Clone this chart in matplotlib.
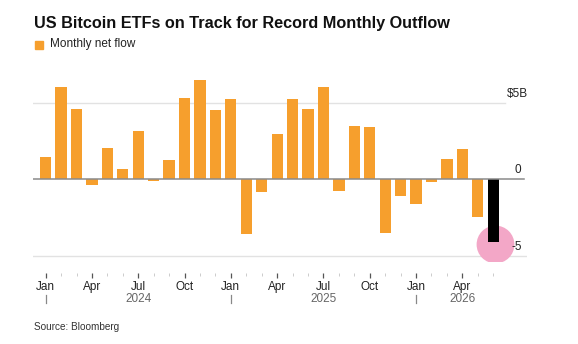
import matplotlib
matplotlib.use("Agg")
import matplotlib.pyplot as plt
import matplotlib.transforms as mtransforms
import numpy as np

plt.rcParams['font.family'] = ['Liberation Sans', 'DejaVu Sans']

# ---- data ----
months = ['2024-01', '2024-02', '2024-03', '2024-04', '2024-05', '2024-06',
          '2024-07', '2024-08', '2024-09', '2024-10', '2024-11', '2024-12',
          '2025-01', '2025-02', '2025-03', '2025-04', '2025-05', '2025-06',
          '2025-07', '2025-08', '2025-09', '2025-10', '2025-11', '2025-12',
          '2026-01', '2026-02', '2026-03', '2026-04', '2026-05', '2026-06']
net_flow = [1.43, 6.0, 4.6, -0.37, 2.04, 0.65, 3.15, -0.08, 1.26, 5.33, 6.48, 4.52,
            5.22, -3.57, -0.8, 2.93, 5.22, 4.57, 6.0, -0.76, 3.5, 3.39, -3.48, -1.09,
            -1.6, -0.2, 1.3, 1.96, -2.43, -4.07]
highlight_month = '2026-06'
y_ticks = [-5, 0, 5]
y_tick_labels = ['-5', '0', '$5B']
x_tick_months = ['2024-01', '2024-04', '2024-07', '2024-10', '2025-01', '2025-04',
                 '2025-07', '2025-10', '2026-01', '2026-04']
x_tick_labels = ['Jan', 'Apr', 'Jul', 'Oct', 'Jan', 'Apr', 'Jul', 'Oct', 'Jan', 'Apr']
year_labels = ['2024', '2025', '2026']
year_label_months = ['2024-07', '2025-07', '2026-04']
year_sep_months = ['2024-01', '2025-01', '2026-01']

ORANGE = '#F69F2D'
W, H = 578, 344
fig = plt.figure(figsize=(W / 100, H / 100), dpi=100)

left_px, right_px = 33.3, 527.0
bot_px, top_px = 260.6, 59.7
ax = fig.add_axes([left_px / W, 1 - bot_px / H, (right_px - left_px) / W, (bot_px - top_px) / H])

idx = np.arange(len(months))
colors = ['black' if m == highlight_month else ORANGE for m in months]
hi = months.index(highlight_month)

# pink highlight circle
ax.scatter([hi + 0.1], [net_flow[hi] - 0.15], s=740, color='#F3A7C7', zorder=1, linewidths=0)
ax.bar(idx, net_flow, width=0.73, color=colors, zorder=3)

ax.set_xlim(-0.80, 31.19)
ax.set_ylim(-5.3, 7.8)

# gridlines
grid_ends = {5: 0.955, 0: 0.993, -5: 1.0}
for v in y_ticks:
    if v == 0:
        ax.axhline(0, xmin=0, xmax=grid_ends[v], color='#8a8a8a', lw=1.1, zorder=4)
    else:
        ax.axhline(v, xmin=0, xmax=grid_ends[v], color='#e2e2e2', lw=1.0, zorder=0)

# right-side y labels above gridlines
label_x = {5: 528.3, 0: 521.0, -5: 522.0}
for v, lab in zip(y_ticks, y_tick_labels):
    tr = mtransforms.blended_transform_factory(fig.transFigure, ax.transData)
    tr = mtransforms.offset_copy(tr, fig=fig, y=9, units='dots')
    ax.text(label_x[v] / W, v, lab, transform=tr, ha='right', va='center',
            fontsize=8.5, color='#222222')

for s in ax.spines.values():
    s.set_visible(False)
ax.set_yticks([])

# x ticks
ax.spines['bottom'].set_position(('outward', 9))
major = [months.index(m) for m in x_tick_months]
ax.set_xticks(major)
ax.set_xticklabels(x_tick_labels, fontsize=8.5, color='#222222')
ax.set_xticks(idx, minor=True)
ax.tick_params(axis='x', which='major', length=3.5, width=0.9, color='#555555', pad=2)
ax.tick_params(axis='x', which='minor', length=2.5, width=0.7, color='#cccccc')

# year labels and separators
ytr = mtransforms.blended_transform_factory(ax.transData, fig.transFigure)
for yl, m in zip(year_labels, year_label_months):
    ax.text(months.index(m), 1 - 298.5 / H, yl, transform=ytr, ha='center', va='center',
            fontsize=8.5, color='#666666')
for m in year_sep_months:
    ax.plot([months.index(m)] * 2, [1 - 295 / H, 1 - 303 / H], transform=ytr,
            color='#888888', lw=0.9, clip_on=False)

# title, legend, source
fig.text(34 / W, 1 - 23.5 / H, 'US Bitcoin ETFs on Track for Record Monthly Outflow',
         fontsize=11.7, fontweight='bold', ha='left', va='center', color='#111111')
fig.patches.append(plt.Rectangle((35 / W, 1 - 48.5 / H), 8 / W, 7 / H,
                                 transform=fig.transFigure, color=ORANGE))
fig.text(50 / W, 1 - 44.5 / H, 'Monthly net flow', fontsize=8.5, ha='left', va='center',
         color='#222222')
fig.text(34 / W, 1 - 326.7 / H, 'Source: Bloomberg', fontsize=7.2, ha='left', va='center',
         color='#333333')

fig.savefig('out.png', dpi=100, facecolor='white')
